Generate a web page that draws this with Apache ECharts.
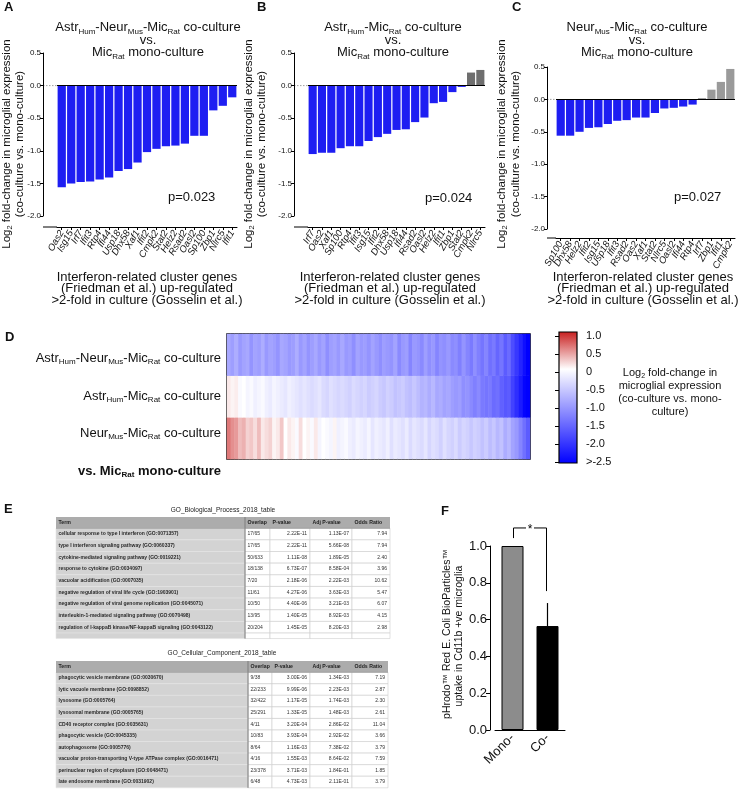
<!DOCTYPE html>
<html>
<head>
<meta charset="utf-8">
<title>Microglial co-culture figure</title>
<script src="https://cdn.jsdelivr.net/npm/echarts@6.0.0/dist/echarts.min.js"></script>
<style>
html,body{margin:0;padding:0;background:#fff;}
#chart{width:739px;height:789px;}
</style>
</head>
<body>
<div id="chart"></div>
<script>
// ---------------- DATA ----------------
const genesA = ['Oas2','Isg15','Irf7','Ifit3','Rtp4','Ifi44','Usp18','Dhx58','Xaf1','Ifit2','Cmpk2','Stat2','Helz2','Rsad2','Oasl2','Sp100','Zbp1','Nlrc5','Ifit1'];
const valuesA = [-1.56,-1.50,-1.48,-1.47,-1.44,-1.41,-1.31,-1.28,-1.18,-1.02,-0.97,-0.93,-0.92,-0.89,-0.77,-0.77,-0.38,-0.31,-0.18];
const genesB = ['Irf7','Oas2','Xaf1','Sp100','Rtp4','Ifit3','Isg15','Ifit2','Dhx58','Usp18','Ifi44','Rsad2','Oasl2','Helz2','Ifit1','Zbp1','Stat2','Cmpk2','Nlrc5'];
const valuesB = [-1.05,-1.03,-1.03,-0.96,-0.93,-0.93,-0.85,-0.79,-0.74,-0.68,-0.67,-0.56,-0.49,-0.27,-0.25,-0.10,-0.02,0.20,0.24];
const genesC = ['Sp100','Dhx58','Helz2','Ifit2','Isg15','Usp18','Ifit3','Rsad2','Oas2','Xaf1','Stat2','Nlrc5','Oasl2','Ifi44','Rtp4','Irf7','Zbp1','Ifit1','Cmpk2'];
const valuesC = [-0.56,-0.56,-0.50,-0.44,-0.43,-0.38,-0.33,-0.32,-0.28,-0.28,-0.21,-0.14,-0.13,-0.11,-0.08,0.02,0.15,0.27,0.47];
const pValues = ['p=0.023','p=0.024','p=0.027'];

// heatmap rows (top to bottom), genes ordered left to right
const hmAstrNeurMic = [-0.85,-0.95,-0.80,-1.00,-0.90,-0.85,-1.05,-0.90,-0.95,-0.80,
 -1.00,-0.90,-0.95,-1.05,-0.85,-0.90,-1.00,-0.95,-0.80,-1.00,
 -0.90,-1.05,-0.95,-0.85,-1.00,-0.90,-1.10,-0.95,-0.90,-1.00,
 -0.85,-1.00,-0.95,-1.10,-0.90,-1.00,-0.95,-1.05,-0.90,-1.00,
 -1.10,-0.95,-1.00,-1.05,-0.90,-1.15,-1.00,-0.95,-1.20,-1.00,
 -1.05,-1.15,-0.95,-1.10,-1.00,-1.20,-1.05,-1.10,-1.00,-1.15,
 -1.10,-1.25,-1.05,-1.20,-1.30,-1.10,-1.25,-1.35,-1.20,-1.40,
 -1.30,-1.50,-1.35,-1.60,-1.45,-1.75,-1.95,-2.15,-2.35,-2.50];
const hmAstrMic = [0.10,0.05,0.08,-0.05,0.00,-0.10,-0.05,-0.15,-0.10,-0.05,
 -0.15,-0.20,-0.10,-0.15,-0.20,-0.25,-0.15,-0.20,-0.25,-0.30,
 -0.25,-0.30,-0.35,-0.30,-0.25,-0.35,-0.40,-0.30,-0.35,-0.40,
 -0.35,-0.40,-0.45,-0.35,-0.40,-0.45,-0.40,-0.50,-0.45,-0.40,
 -0.50,-0.55,-0.45,-0.50,-0.60,-0.55,-0.50,-0.60,-0.65,-0.55,
 -0.65,-0.75,-0.70,-0.80,-0.70,-0.85,-0.80,-0.90,-0.85,-0.95,
 -1.00,-0.95,-1.10,-1.05,-1.15,-1.25,-1.15,-1.30,-1.35,-1.30,
 -1.45,-1.40,-1.55,-1.65,-1.60,-1.85,-2.05,-2.25,-2.45,-2.50];
const hmNeurMic = [0.60,0.50,0.45,0.30,0.35,0.20,0.25,0.15,0.30,0.10,
 0.15,0.20,0.05,0.10,0.25,0.00,0.10,0.05,-0.05,0.15,
 0.00,0.05,-0.05,0.10,-0.10,0.00,-0.05,-0.10,0.05,-0.15,
 -0.10,-0.05,-0.15,-0.20,-0.10,-0.15,-0.20,-0.10,-0.25,-0.15,
 -0.20,-0.25,-0.15,-0.30,-0.20,-0.25,-0.30,-0.20,-0.35,-0.25,
 -0.30,-0.35,-0.25,-0.40,-0.30,-0.35,-0.45,-0.30,-0.40,-0.45,
 -0.35,-0.50,-0.40,-0.45,-0.55,-0.45,-0.50,-0.60,-0.50,-0.65,
 -0.55,-0.70,-0.60,-0.80,-0.70,-0.90,-1.00,-1.20,-1.40,-1.60];

const bpTerms = ['cellular response to type I interferon (GO:0071357)','type I interferon signaling pathway (GO:0060337)','cytokine-mediated signaling pathway (GO:0019221)','response to cytokine (GO:0034097)','vacuolar acidification (GO:0007035)','negative regulation of viral life cycle (GO:1903901)','negative regulation of viral genome replication (GO:0045071)','interleukin-1-mediated signaling pathway (GO:0070498)','regulation of I-kappaB kinase/NF-kappaB signaling (GO:0043122)'];
const bpOverlap = ['17/65','17/65','50/633','18/138','7/20','11/61','10/50','13/95','20/204'];
const bpP = ['2.22E-11','2.22E-11','1.11E-08','6.73E-07','2.18E-06','4.27E-06','4.40E-06','1.40E-05','1.45E-05'];
const bpAdjP = ['1.13E-07','5.66E-08','1.89E-05','8.58E-04','2.22E-03','3.63E-03','3.21E-03','8.92E-03','8.20E-03'];
const bpOdds = ['7.94','7.94','2.40','3.96','10.62','5.47','6.07','4.15','2.98'];

const ccTerms = ['phagocytic vesicle membrane (GO:0030670)','lytic vacuole membrane (GO:0098852)','lysosome (GO:0005764)','lysosomal membrane (GO:0005765)','CD40 receptor complex (GO:0035631)','phagocytic vesicle (GO:0045335)','autophagosome (GO:0005776)','vacuolar proton-transporting V-type ATPase complex (GO:0016471)','perinuclear region of cytoplasm (GO:0048471)','late endosome membrane (GO:0031902)'];
const ccOverlap = ['9/38','22/233','32/422','25/291','4/11','10/83','8/64','4/16','23/378','6/48'];
const ccP = ['3.00E-06','9.99E-06','1.17E-05','1.33E-05','3.20E-04','3.93E-04','1.16E-03','1.55E-03','3.71E-03','4.73E-03'];
const ccAdjP = ['1.34E-03','2.23E-03','1.74E-03','1.48E-03','2.86E-02','2.92E-02','7.38E-02','8.64E-02','1.84E-01','2.11E-01'];
const ccOdds = ['7.19','2.87','2.30','2.61','11.04','3.66','3.79','7.59','1.85','3.79'];

const uptakeCats = ['Mono-','Co-'];
const uptakeMean = [1.0, 0.565];
const uptakeSem = [0, 0.125];

// ---------------- STYLE / LAYOUT ----------------
const FONT = '"Liberation Sans", Arial, Helvetica, sans-serif';
const TXT = '#111111';
const BLUE = '#1e1ef2';
const colorStops = ['#0000ff','#3333ff','#6666ff','#9999ff','#ccccff','#ffffff','#e48f8f','#c81e1e']; // -2.5 ... 1.0

const chart = echarts.init(document.getElementById('chart'), null, {renderer:'canvas', width:739, height:789});

function T(x, y, text, size, o) {
  o = o || {};
  const w = o.bold ? 'bold' : 'normal';
  const col = o.color || TXT;
  return {
    type:'text', x:x, y:y, rotation:o.rot || 0, silent:true, z:100,
    style:{
      text:text, fontFamily:FONT, fontSize:size, fontWeight:w, fill:col,
      align:o.align || 'center', verticalAlign:'middle',
      rich:{
        n:{fontFamily:FONT, fontSize:size, fontWeight:w, fill:col, lineHeight:size + 3},
        s:{fontFamily:FONT, fontSize:o.sub || 8, fontWeight:w, fill:col, lineHeight:o.sub || 8, verticalAlign:'bottom'}
      }
    }
  };
}

const barPanels = [
  {genes:genesA, values:valuesA, grid:{left:57, top:53, width:180, height:163}, yOff:14, xOff:11, pos:'#6e6e6e'},
  {genes:genesB, values:valuesB, grid:{left:308, top:53, width:177, height:163}, yOff:14, xOff:11, pos:'#6e6e6e'},
  {genes:genesC, values:valuesC, grid:{left:556, top:67, width:179, height:162}, yOff:9, xOff:9, pos:'#9a9a9a'}
];

const grids = [], xAxes = [], yAxes = [], series = [], graphics = [];

barPanels.forEach((p, i) => {
  grids.push(p.grid);
  xAxes.push({
    type:'category', gridIndex:i, data:p.genes, position:'bottom', offset:p.xOff,
    axisLine:{onZero:false, lineStyle:{color:'#000', width:1}},
    axisTick:{show:true, length:3, alignWithLabel:true, lineStyle:{color:'#000'}},
    axisLabel:{rotate:60, interval:0, fontSize:9.5, fontFamily:FONT, fontStyle:'italic', color:TXT, margin:4},
    splitLine:{show:false}
  });
  yAxes.push({
    type:'value', gridIndex:i, min:-2, max:0.5, interval:0.5, offset:p.yOff,
    axisLine:{show:true, lineStyle:{color:'#000', width:1}},
    axisTick:{show:true, length:3, lineStyle:{color:'#000'}},
    axisLabel:{fontSize:8, fontFamily:FONT, color:TXT, margin:2, formatter:v => v.toFixed(1)},
    splitLine:{show:false}
  });
  series.push({
    type:'bar', xAxisIndex:i, yAxisIndex:i, data:p.values, barCategoryGap:'13%',
    itemStyle:{color:function(d){ return d.value < 0 ? BLUE : p.pos; }},
    markLine:{silent:true, symbol:'none', label:{show:false}, animation:false,
      lineStyle:{color:'#000', width:1, type:'solid'}, data:[{yAxis:0}]}
  });
  // dashed zero extension between axis and first bar, bottom axis extension
  const g = p.grid;
  const y0 = g.top + g.height * (0.5 / 2.5);
  const ax = g.left - p.yOff;
  graphics.push({type:'line', silent:true, shape:{x1:ax, y1:y0, x2:g.left, y2:y0}, style:{stroke:'#888', lineWidth:0.8, lineDash:[1.5,1.5]}});
  graphics.push({type:'line', silent:true, shape:{x1:ax, y1:g.top + g.height + p.xOff, x2:g.left, y2:g.top + g.height + p.xOff}, style:{stroke:'#000', lineWidth:1}});
});

// heatmap grid (index 3)
grids.push({left:227, top:334, width:303, height:125, show:true, borderColor:'#000', borderWidth:1.5, backgroundColor:'#fff'});
xAxes.push({type:'category', gridIndex:3, data:hmAstrNeurMic.map((_, i) => i), show:false});
yAxes.push({type:'category', gridIndex:3, data:['Neur-Mic','Astr-Mic','Astr-Neur-Mic'], show:false});
const heatData = [];
[hmNeurMic, hmAstrMic, hmAstrNeurMic].forEach((row, j) => row.forEach((v, i) => heatData.push([i, j, v])));
series.push({type:'heatmap', xAxisIndex:3, yAxisIndex:3, data:heatData, itemStyle:{borderWidth:0}, emphasis:{disabled:true}});

// colorbar axis grid (index 4)
grids.push({left:559, top:336, width:18, height:126});
xAxes.push({type:'value', gridIndex:4, show:false, min:0, max:1});
yAxes.push({
  type:'value', gridIndex:4, min:-2.5, max:1.0, interval:0.5, position:'right',
  axisLine:{show:false}, axisTick:{show:true, inside:true, length:4, lineStyle:{color:'#000'}},
  axisLabel:{fontSize:11, fontFamily:FONT, color:TXT, margin:9,
    formatter:v => (Math.abs(v + 2.5) < 1e-9 ? '>-2.5' : (Math.abs(v) < 1e-9 ? '0' : v.toFixed(1)))},
  splitLine:{show:false}
});

// panel F grid (index 5)
grids.push({left:495, top:546, width:70, height:184});
xAxes.push({
  type:'category', gridIndex:5, data:uptakeCats,
  axisLine:{lineStyle:{color:'#000', width:1}}, axisTick:{show:false},
  axisLabel:{rotate:45, fontSize:13, fontFamily:FONT, color:TXT, margin:6}
});
yAxes.push({
  type:'value', gridIndex:5, min:0, max:1.0, interval:0.2, offset:5,
  axisLine:{show:true, lineStyle:{color:'#000', width:1}},
  axisTick:{show:true, length:4, lineStyle:{color:'#000'}},
  axisLabel:{fontSize:13, fontFamily:FONT, color:TXT, margin:3, formatter:v => v.toFixed(1)},
  splitLine:{show:false}
});
series.push({
  type:'bar', xAxisIndex:5, yAxisIndex:5, barWidth:22,
  data:[
    {value:uptakeMean[0], itemStyle:{color:'#8c8c8c', borderColor:'#000', borderWidth:1}},
    {value:uptakeMean[1], itemStyle:{color:'#000', borderColor:'#000', borderWidth:1}}
  ]
});
series.push({
  type:'custom', xAxisIndex:5, yAxisIndex:5, z:5,
  data:uptakeMean.map((m, i) => [i, m, m + uptakeSem[i]]).filter(d => d[2] > d[1]),
  renderItem:function(params, api){
    const a = api.coord([api.value(0), api.value(1)]);
    const b = api.coord([api.value(0), api.value(2)]);
    return {type:'line', shape:{x1:a[0], y1:a[1], x2:b[0], y2:b[1]}, style:{stroke:'#000', lineWidth:1.2}};
  }
});
// significance bracket: [cat left, cat right, left foot, top, right foot]
series.push({
  type:'custom', xAxisIndex:5, yAxisIndex:5, z:5,
  data:[[0, 1, 1.043, 1.098, 0.755]],
  renderItem:function(params, api){
    const l = api.coord([api.value(0), api.value(2)]);
    const t = api.coord([api.value(0), api.value(3)]);
    const r = api.coord([api.value(1), api.value(4)]);
    const xl = l[0] + 1, xr = r[0] - 1, yt = t[1], mid = (xl + xr) / 2;
    const st = {stroke:'#000', lineWidth:1};
    return {type:'group', children:[
      {type:'line', shape:{x1:xl, y1:l[1], x2:xl, y2:yt}, style:st},
      {type:'line', shape:{x1:xl, y1:yt, x2:mid - 4, y2:yt}, style:st},
      {type:'line', shape:{x1:mid + 4, y1:yt, x2:xr, y2:yt}, style:st},
      {type:'line', shape:{x1:xr, y1:yt, x2:xr, y2:r[1]}, style:st},
      {type:'text', x:mid, y:yt + 2, style:{text:'*', fontSize:12, fontFamily:FONT, fill:'#000', align:'center', verticalAlign:'middle'}}
    ]};
  }
});

// ---------------- TEXT (graphics) ----------------
const letters = [['A',4,7],['B',257,7],['C',512,7],['D',5,337],['E',4,509],['F',441,511]];
letters.forEach(l => graphics.push(T(l[1], l[2], l[0], 13, {bold:true, align:'left'})));

const titles = [
  ['{n|Astr}{s|Hum}{n|-Neur}{s|Mus}{n|-Mic}{s|Rat}{n| co-culture}', '{n|vs.}', '{n|Mic}{s|Rat}{n| mono-culture}'],
  ['{n|Astr}{s|Hum}{n|-Mic}{s|Rat}{n| co-culture}', '{n|vs.}', '{n|Mic}{s|Rat}{n| mono-culture}'],
  ['{n|Neur}{s|Mus}{n|-Mic}{s|Rat}{n| co-culture}', '{n|vs.}', '{n|Mic}{s|Rat}{n| mono-culture}']
];
const titleX = [148, 393, 637];
const yTitleX = [[7, 20], [249, 262], [502, 516]];
const xTitleX = [147, 390, 643];
const pPos = [[168, 197], [425, 198], [674, 197]];
const xTitle = ['Interferon-related cluster genes', '(Friedman et al.) up-regulated', '>2-fold in culture (Gosselin et al.)'];
titles.forEach((lines, i) => {
  lines.forEach((ln, k) => graphics.push(T(titleX[i], 27.5 + k * 12.7, ln, 13)));
  graphics.push(T(yTitleX[i][0], 144, '{n|Log}{s|2}{n| fold-change in microglial expression}', 11.5, {rot:Math.PI / 2, sub:7.5}));
  graphics.push(T(yTitleX[i][1], 144, '(co-culture vs. mono-culture)', 11.5, {rot:Math.PI / 2}));
  xTitle.forEach((ln, k) => graphics.push(T(xTitleX[i], 277 + k * 11.5, ln, 13)));
  graphics.push(T(pPos[i][0], pPos[i][1], pValues[i], 13, {align:'left'}));
});

// heatmap labels
const hmLabels = ['{n|Astr}{s|Hum}{n|-Neur}{s|Mus}{n|-Mic}{s|Rat}{n| co-culture}', '{n|Astr}{s|Hum}{n|-Mic}{s|Rat}{n| co-culture}', '{n|Neur}{s|Mus}{n|-Mic}{s|Rat}{n| co-culture}'];
[358, 396, 433].forEach((y, k) => graphics.push(T(221, y, hmLabels[k], 13, {align:'right'})));
graphics.push(T(221, 471, '{n|vs. Mic}{s|Rat}{n| mono-culture}', 13, {align:'right', bold:true}));

// colorbar
graphics.push({
  type:'rect', silent:true, z:50, shape:{x:559, y:332, width:18, height:131},
  style:{stroke:'#000', lineWidth:1.2,
    fill:new echarts.graphic.LinearGradient(0, 0, 0, 1, colorStops.slice().reverse().map((c, i, a) => ({offset:i / (a.length - 1), color:c})))}
});
const cbTitle = ['{n|Log}{s|2}{n| fold-change in}', 'microglial expression', '(co-culture vs. mono-', 'culture)'];
cbTitle.forEach((ln, k) => graphics.push(T(670, 373 + k * 13, ln, 11, {sub:7})));

// panel F y title
graphics.push(T(447, 634, 'pHrodo™ Red E. Coli BioParticles™', 10.5, {rot:Math.PI / 2}));
graphics.push(T(459.5, 636, 'uptake in Cd11b +ve microglia', 10.5, {rot:Math.PI / 2}));

// ---------------- TABLES ----------------
function buildTable(cfg, cols) {
  const c = cfg.cols;
  const els = [];
  els.push(T((c[0] + c[5]) / 2, cfg.titleY, cfg.title, 6.5, {color:'#222'}));
  els.push({type:'rect', silent:true, shape:{x:c[0], y:cfg.headTop, width:c[5] - c[0], height:cfg.headH}, style:{fill:'#acacac'}});
  ['Term','Overlap','P-value','Adj P-value','Odds Ratio'].forEach((h, k) => els.push({
    type:'text', silent:true, x:c[k] + 2.5, y:cfg.headTop + cfg.headH / 2,
    style:{text:h, fontFamily:FONT, fontSize:5.2, fontWeight:'bold', fill:'#222', align:'left', verticalAlign:'middle'}
  }));
  const n = cols[0].length;
  const heights = cols[0].map(() => cfg.rowH);
  if (cfg.extraH) heights.push(cfg.extraH);
  let top = cfg.headTop + cfg.headH;
  heights.forEach((h, r) => {
    els.push({type:'rect', silent:true, shape:{x:c[0], y:top, width:c[1] - c[0], height:h}, style:{fill:'#d3d3d3', stroke:'#e4e4e4', lineWidth:0.6}});
    for (let k = 1; k < 5; k++) {
      els.push({type:'rect', silent:true, shape:{x:c[k], y:top, width:c[k + 1] - c[k], height:h}, style:{fill:'#fff', stroke:'#cdcdcd', lineWidth:0.6}});
    }
    if (r < n) {
      const cy = top + h / 2;
      els.push({type:'text', silent:true, x:c[0] + 2.5, y:cy, style:{text:cols[0][r], fontFamily:FONT, fontSize:5, fontWeight:'bold', fill:'#2a2a2a', align:'left', verticalAlign:'middle'}});
      els.push({type:'text', silent:true, x:c[1] + 2.5, y:cy, style:{text:cols[1][r], fontFamily:FONT, fontSize:5, fill:'#333', align:'left', verticalAlign:'middle'}});
      for (let k = 2; k < 5; k++) {
        els.push({type:'text', silent:true, x:c[k + 1] - 3, y:cy, style:{text:cols[k][r], fontFamily:FONT, fontSize:5, fill:'#333', align:'right', verticalAlign:'middle'}});
      }
    }
    top += h;
  });
  els.push({type:'line', silent:true, shape:{x1:c[1], y1:cfg.headTop, x2:c[1], y2:top}, style:{stroke:'#7c7c7c', lineWidth:1}});
  els.push({type:'line', silent:true, shape:{x1:c[0], y1:cfg.headTop + cfg.headH, x2:c[5], y2:cfg.headTop + cfg.headH}, style:{stroke:'#8a8a8a', lineWidth:0.8}});
  return els;
}
buildTable({cols:[56,245,270,310,352,390], title:'GO_Biological_Process_2018_table', titleY:510, headTop:517, headH:11.2, rowH:11.65, extraH:5.5},
  [bpTerms, bpOverlap, bpP, bpAdjP, bpOdds]).forEach(e => graphics.push(e));
buildTable({cols:[56,248,272,310,352,388], title:'GO_Cellular_Component_2018_table', titleY:653, headTop:661, headH:11.2, rowH:11.56},
  [ccTerms, ccOverlap, ccP, ccAdjP, ccOdds]).forEach(e => graphics.push(e));

chart.setOption({
  animation:false,
  backgroundColor:'#fff',
  grid:grids.map(g => Object.assign({outerBoundsMode:'none', containLabel:false}, g)),
  xAxis:xAxes,
  yAxis:yAxes,
  visualMap:{type:'continuous', show:false, seriesIndex:3, dimension:2, min:-2.5, max:1.0, inRange:{color:colorStops}},
  series:series,
  graphic:{elements:graphics}
});
</script>
</body>
</html>
